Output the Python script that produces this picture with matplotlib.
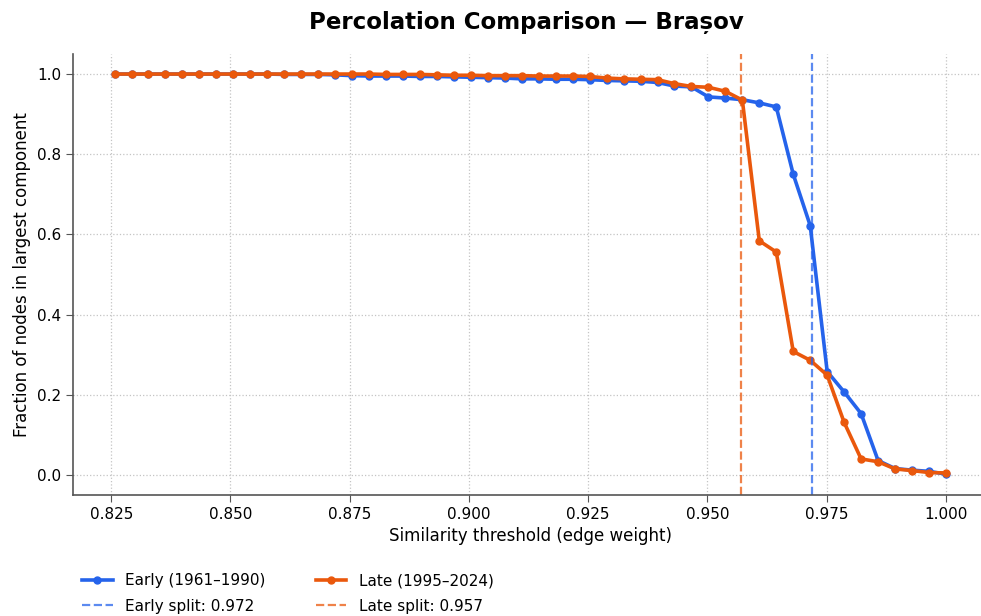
import numpy as np
import matplotlib
matplotlib.use("Agg")
import matplotlib.pyplot as plt

# similarity thresholds (50 steps up to 1.0)
thresholds = np.linspace(0.8257, 1.0, 50)

early = [1.0, 1.0, 1.0, 1.0, 1.0, 1.0, 1.0, 1.0, 1.0, 1.0,
         0.999, 0.999, 0.999, 0.998, 0.996, 0.995, 0.995, 0.995, 0.994, 0.994,
         0.993, 0.992, 0.991, 0.990, 0.988, 0.988, 0.987, 0.987, 0.986, 0.984,
         0.983, 0.982, 0.979, 0.970, 0.968, 0.943, 0.940, 0.936, 0.928, 0.918,
         0.750, 0.622, 0.258, 0.207, 0.153, 0.036, 0.016, 0.012, 0.009, 0.002]

late = [1.0, 1.0, 1.0, 1.0, 1.0, 1.0, 1.0, 1.0, 1.0, 1.0,
        1.0, 1.0, 1.0, 1.0, 1.0, 1.0, 0.999, 0.999, 0.999, 0.998,
        0.997, 0.997, 0.996, 0.996, 0.996, 0.995, 0.995, 0.995, 0.994, 0.990,
        0.988, 0.987, 0.986, 0.976, 0.969, 0.967, 0.957, 0.935, 0.584, 0.556,
        0.308, 0.286, 0.249, 0.131, 0.040, 0.033, 0.015, 0.011, 0.006, 0.005]

early_split = 0.972
late_split = 0.957

early_color = "#2563eb"
late_color = "#ea580c"

fig = plt.figure(figsize=(9.81, 6.16), dpi=100)
ax = fig.add_axes([73/981, 121/616, 914.5/981, 441/616])

l1, = ax.plot(thresholds, early, "-o", color=early_color, lw=2.6, ms=5,
              label="Early (1961–1990)")
l2, = ax.plot(thresholds, late, "-o", color=late_color, lw=2.6, ms=5,
              label="Late (1995–2024)")
d1 = ax.axvline(early_split, color=early_color, ls="--", lw=1.6, alpha=0.75,
                label=f"Early split: {early_split:.3f}")
d2 = ax.axvline(late_split, color=late_color, ls="--", lw=1.6, alpha=0.75,
                label=f"Late split: {late_split:.3f}")

ax.set_xlim(0.81699, 1.00871)
ax.set_ylim(-0.05, 1.05)
ax.set_xticks([0.825, 0.850, 0.875, 0.900, 0.925, 0.950, 0.975, 1.000])
ax.set_yticks([0.0, 0.2, 0.4, 0.6, 0.8, 1.0])
ax.xaxis.set_major_formatter(matplotlib.ticker.FormatStrFormatter("%.3f"))

ax.grid(True, ls=":", color="#c4c4c4", lw=0.9)
ax.set_axisbelow(True)
for s in ["top", "right"]:
    ax.spines[s].set_visible(False)
for s in ["left", "bottom"]:
    ax.spines[s].set_color("#555555")
    ax.spines[s].set_linewidth(1.2)
ax.tick_params(labelsize=11, color="#555555", length=5)

ax.set_xlabel("Similarity threshold (edge weight)", fontsize=12)
ax.set_ylabel("Fraction of nodes in largest component", fontsize=12)
fig.text(0.537, 0.963, "Percolation Comparison — Brașov", fontsize=16.5,
         fontweight="bold", ha="center", va="center")

ax.legend(handles=[l1, d1, l2, d2], ncol=2, frameon=False, fontsize=11,
          loc="upper left", bbox_to_anchor=(-0.005, -0.146),
          columnspacing=3.3, handlelength=2.0, labelspacing=0.68)

fig.savefig("out.png", dpi=100)
